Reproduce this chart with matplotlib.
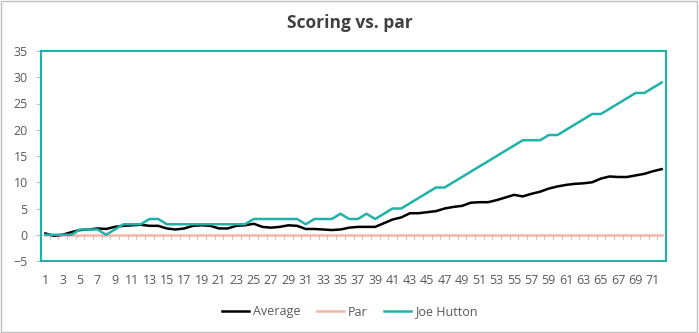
import matplotlib
matplotlib.use("Agg")
import matplotlib.pyplot as plt
from matplotlib.patches import Rectangle
from matplotlib.ticker import NullFormatter
import numpy as np

plt.rcParams['font.family'] = ['Open Sans', 'DejaVu Sans']

# Rounds 1..72
rounds = np.arange(1, 73)

# Running average score vs. par
average = [0.25, -0.2, 0.0, 0.5, 0.9, 1.0, 1.2, 1.1, 1.5, 1.7,
           1.8, 1.9, 1.7, 1.7, 1.2, 1.0, 1.2, 1.7, 1.8, 1.7,
           1.2, 1.2, 1.7, 1.8, 2.1, 1.5, 1.35, 1.5, 1.8, 1.7,
           1.1, 1.1, 1.0, 0.9, 1.0, 1.35, 1.5, 1.5, 1.5, 2.2,
           2.9, 3.3, 4.1, 4.1, 4.3, 4.5, 5.0, 5.3, 5.5, 6.1,
           6.2, 6.2, 6.6, 7.1, 7.6, 7.3, 7.8, 8.2, 8.8, 9.2,
           9.5, 9.7, 9.8, 10.0, 10.7, 11.1, 11.0, 11.0, 11.3, 11.6,
           12.1, 12.5]

par = [0] * 72

joe_hutton = [0, 0, 0, 0, 1, 1, 1, 0, 1, 2,
              2, 2, 3, 3, 2, 2, 2, 2, 2, 2,
              2, 2, 2, 2, 3, 3, 3, 3, 3, 3,
              2, 3, 3, 3, 4, 3, 3, 4, 3, 4,
              5, 5, 6, 7, 8, 9, 9, 10, 11, 12,
              13, 14, 15, 16, 17, 18, 18, 18, 19, 19,
              20, 21, 22, 23, 23, 24, 25, 26, 27, 27,
              28, 29]

teal = '#20B2AA'
label_col = '#595959'

fig = plt.figure(figsize=(6.99, 3.33), dpi=100)
ax = fig.add_axes([41 / 699, 1 - 261 / 333, 625 / 699, 210 / 333])

ax.plot(rounds, average, color='black', lw=1.8, label='Average', zorder=3)
ax.plot(rounds, par, color='#F4B6A6', lw=1.8, label='Par', zorder=2)
ax.plot(rounds, joe_hutton, color=teal, lw=1.8, label='Joe Hutton', zorder=4)

ax.set_xlim(0.5, 72.5)
ax.set_ylim(-5, 35)

# Plot area border
for sp in ax.spines.values():
    sp.set_color(teal)
    sp.set_linewidth(1.5)

ax.set_yticks(np.arange(-5, 36, 5))
ax.tick_params(axis='y', length=3.6, width=0.8, color='#BFBFBF', pad=6,
               labelsize=9, labelcolor=label_col)
ax.set_xticks(rounds[::2])
ax.tick_params(axis='x', length=0, pad=9, labelsize=9, labelcolor=label_col)

# Category axis ticks sitting on the zero line
zero_pos = 5 / 40
cat_axis = ax.secondary_xaxis(zero_pos)
cat_axis.xaxis.set_ticks_position('bottom')
cat_axis.set_xticks(np.arange(1.5, 72, 1))
cat_axis.xaxis.set_major_formatter(NullFormatter())
cat_axis.tick_params(axis='x', direction='out', length=3, width=0.8,
                     color='#BFBFBF', labelbottom=False, labeltop=False)
cat_axis.spines['bottom'].set_visible(False)
cat_axis.spines['top'].set_visible(False)

fig.text(0.5, 1 - 23 / 333, 'Scoring vs. par', ha='center', va='center',
         fontsize=12.5, fontweight='bold', color='#404040')

fig.legend(loc='center', bbox_to_anchor=(0.5, 1 - 312 / 333), ncol=3,
           frameon=False, fontsize=9, labelcolor=label_col,
           handlelength=2.2, handletextpad=0.3, columnspacing=1.3)

# Chart border
fig.add_artist(Rectangle((0.5 / 699, 1.5 / 333), 696.5 / 699, 331 / 333,
                         transform=fig.transFigure, fill=False,
                         edgecolor='#BFBFBF', lw=1))

fig.savefig('out.png', dpi=100)
